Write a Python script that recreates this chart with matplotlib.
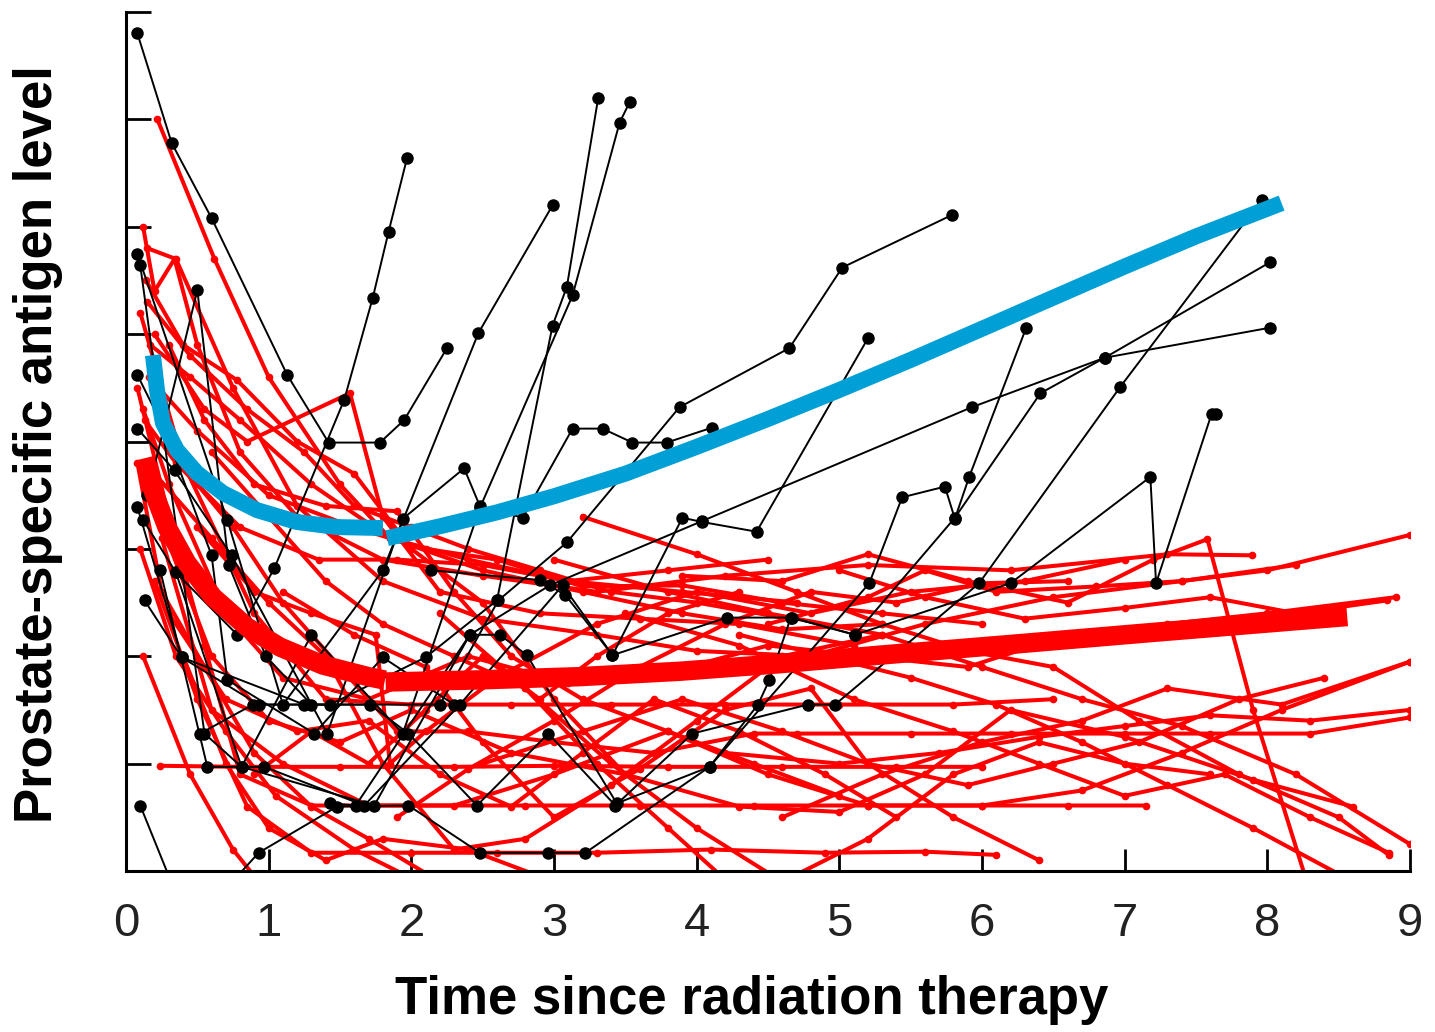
import numpy as np
import matplotlib
matplotlib.use('Agg')
import matplotlib.pyplot as plt

plt.rcParams['font.family'] = ['Liberation Sans', 'DejaVu Sans']

# PSA trajectories, time (years) and level (tick units)
# red = responders, black = recurrence
red_t = [
    [0.22, 0.62, 1.0, 1.5, 1.85, 2.4, 3.1, 3.9, 4.7],
    [0.12, 0.2, 0.34, 0.5, 0.8, 1.2, 1.8, 2.5, 3.3, 4.2, 5.2, 6.2, 7.3, 7.89],
    [0.15, 0.35, 0.75, 1.2, 1.8, 2.5, 3.3, 4.0, 4.8, 5.6, 6.5, 7.4, 8.2],
    [0.1, 0.4, 0.9, 1.4, 2.0, 2.7, 3.4, 4.2, 5.0, 5.8, 6.5],
    [0.08, 0.3, 0.55, 0.8, 1.3, 2.0, 2.8, 3.6, 4.4, 5.2, 6.0, 6.6, 7.15],
    [0.24, 0.8, 1.5, 2.3, 3.0, 3.8, 4.6, 5.4, 6.0],
    [0.12, 0.45, 0.75, 1.05],
    [0.2, 0.5, 0.85, 1.3, 2.0, 2.6, 3.3, 4.1, 4.9, 5.6, 6.1],
    [0.12, 0.3, 0.7, 1.1, 1.7, 2.4, 3.1, 3.8, 4.5, 5.2, 5.9, 6.6, 7.3, 8.0, 8.9],
    [0.16, 0.5, 1.0, 1.6, 2.1, 2.6, 3.2, 3.9, 4.6, 5.3, 6.0],
    [0.2, 0.55, 0.85, 1.57, 1.8, 2.2, 2.9, 3.6, 4.3, 5.1],
    [0.5, 0.75, 1.1, 1.5, 1.9, 2.4, 3.0, 3.7, 4.4, 4.7, 5.5, 6.2, 7.0, 7.6, 8.3, 9.0],
    [0.2, 0.6, 1.0, 1.5, 2.0, 2.7, 3.5, 4.3, 5.0, 5.6, 6.2, 7.0, 7.9, 8.6],
    [0.25, 0.6, 1.1, 1.7, 2.3, 3.0, 3.8, 4.5, 5.2, 6.0, 6.7, 7.4, 8.1, 9.0],
    [4.5, 5.2, 5.6, 6.1, 6.8, 7.4, 8.0, 9.0],
    [5.0, 5.6, 6.3, 7.0, 7.6, 8.2, 8.84],
    [3.9, 4.6, 5.2, 5.9, 6.6, 7.2, 7.58, 7.9, 8.3],
    [4.6, 5.3, 6.0, 6.7, 7.3, 8.1, 9.0],
    [4.2, 5.0, 5.7, 6.4, 7.0, 7.6, 8.3, 9.0],
    [3.0, 3.8, 4.5, 5.3, 6.0, 6.7, 7.4, 8.2, 9.0],
    [3.5, 4.3, 5.1, 5.8, 6.4, 7.0, 7.7, 8.3, 8.85],
    [4.3, 4.9, 5.5, 6.1, 6.7, 7.3, 7.9, 8.6, 9.0],
    [2.5, 3.2, 3.9, 4.6, 5.2, 5.9, 6.5, 7.1, 7.8, 8.4],
    [3.2, 4.0, 4.7, 5.3, 5.9, 6.5, 7.1, 7.8, 8.5, 8.85],
    [0.08, 0.25, 0.55, 0.9, 1.3, 1.7, 2.2],
    [0.1, 0.35, 0.7, 1.05, 1.6, 2.2],
    [0.17, 0.45, 0.8, 1.3, 1.85, 2.5, 3.2, 3.9, 4.6, 5.3],
    [0.3, 0.55, 0.9, 1.4, 1.9, 2.3, 2.7, 3.2, 3.8, 4.4, 5.0],
    [0.14, 0.4, 0.78, 1.2, 1.6, 2.0, 2.5, 3.0, 3.5],
    [0.5, 0.9, 1.3, 1.75, 1.85, 2.1, 2.6, 3.3, 4.0, 4.8, 5.5, 6.3, 7.0],
    [0.2, 0.6, 1.0, 1.4, 1.8, 2.3, 2.8, 3.4, 4.0, 4.6, 5.3],
    [0.3, 0.7, 1.2, 1.7, 2.2, 2.7, 3.2, 3.7, 4.3, 4.9, 5.4],
    [0.13, 0.35, 0.8, 1.35, 1.9, 2.5, 3.1, 3.8, 4.5],
    [0.6, 1.0, 1.4, 1.8, 2.3, 2.8, 3.3, 3.8, 4.3],
    [1.1, 1.6, 2.1, 2.5, 3.0, 3.6, 4.2, 4.8, 5.2, 5.8, 6.4],
    [1.9, 2.4, 3.0, 3.6, 4.2, 4.8, 5.4, 6.0, 6.6],
    [2.2, 2.8, 3.4, 4.0, 4.6, 5.2, 5.8, 6.4, 7.0, 7.6],
    [0.4, 0.7, 1.0, 1.4, 1.8, 2.4, 3.0],
    [0.9, 1.3, 1.7, 2.1, 2.5, 2.9, 3.3, 3.8, 4.3],
    [0.15, 0.45, 0.85, 1.25, 1.6, 2.0, 2.4, 2.9, 3.4, 4.0, 4.6],
]
red_psa = [
    [7.0, 5.7, 4.6, 3.6, 3.1, 2.9, 2.7, 2.6, 2.5],
    [6.0, 5.4, 5.7, 4.9, 3.9, 3.3, 2.9, 2.75, 2.6, 2.75, 2.85, 2.8, 2.95, 2.94],
    [5.8, 5.7, 4.5, 3.4, 2.7, 2.35, 2.2, 2.05, 2.0, 2.3, 2.55, 2.7, 2.85],
    [5.2, 3.8, 2.4, 1.6, 1.55, 1.55, 1.55, 1.55, 1.55, 1.55, 1.6],
    [4.5, 3.3, 2.1, 0.9, 0.61, 0.61, 0.61, 0.61, 0.61, 0.61, 0.61, 0.61, 0.61],
    [0.98, 0.97, 0.97, 0.97, 0.98, 0.97, 0.97, 0.97, 0.97],
    [2.0, 0.9, 0.2, -0.3],
    [2.7, 1.6, 0.6, 0.17, 0.17, 0.17, 0.17, 0.2, 0.17, 0.18, 0.15],
    [4.3, 3.6, 2.4, 1.8, 1.6, 2.0, 1.75, 1.85, 2.1, 2.0, 1.9, 2.2, 2.3, 2.4, 2.55],
    [4.6, 4.1, 3.5, 3.2, 3.0, 2.9, 2.65, 2.66, 2.5, 2.4, 2.3],
    [5.0, 4.3, 4.0, 4.45, 3.3, 2.6, 2.4, 2.35, 2.3, 2.1],
    [3.6, 3.2, 2.5, 1.9, 1.3, 1.3, 1.2, 1.1, 1.28, 1.28, 1.28, 1.28, 1.28, 1.28, 1.28, 1.43],
    [3.4, 2.0, 1.4, 1.2, 1.5, 1.1, 0.9, 0.6, 0.55, 0.9, 1.5, 1.25, 0.85, 0.6],
    [3.1, 1.5, 1.0, 0.61, 0.61, 0.9, 1.3, 0.9, 0.61, 0.61, 0.75, 1.1, 1.5, 1.95],
    [2.3, 2.55, 2.8, 2.6, 2.65, 2.7, 2.8, 3.13],
    [2.8, 2.55, 2.35, 2.45, 2.55, 2.4, 2.52],
    [2.75, 2.7, 2.95, 2.7, 2.5, 2.9, 3.09, 1.5, -0.2],
    [0.5, 0.9, 1.2, 1.4, 1.7, 1.55, 1.95],
    [1.1, 1.0, 1.1, 1.25, 1.35, 1.45, 1.4, 1.5],
    [2.9, 2.6, 2.4, 2.2, 1.9, 1.6, 1.35, 0.9, 0.25],
    [2.4, 2.1, 1.6, 1.3, 1.0, 0.7, 0.9, 0.5, 0.17],
    [2.2, 2.0, 1.8, 1.55, 1.2, 0.8, 0.4, -0.1, -0.3],
    [1.0, 1.3, 1.6, 1.3, 1.0, 0.8, 1.0, 1.2, 1.6, 1.8],
    [3.3, 2.95, 2.6, 2.3, 2.05, 1.9, 1.4, 0.9, 0.5, 0.15],
    [3.8, 2.6, 1.9, 1.1, 0.6, 0.3, -0.1],
    [3.0, 2.0, 1.3, 0.7, 0.2, -0.2],
    [4.9, 4.6, 4.2, 3.6, 3.1, 2.8, 2.6, 2.4, 2.25, 2.3],
    [4.9, 4.2, 3.6, 3.4, 3.35, 2.6, 2.0, 1.6, 1.3, 1.0, 0.7],
    [5.5, 4.9, 4.57, 4.0, 3.7, 3.0, 2.5, 1.6, 0.9],
    [3.2, 2.6, 2.4, 2.2, 1.0, 1.3, 1.8, 2.3, 2.6, 2.4, 2.6, 2.7, 2.9],
    [3.7, 3.1, 2.5, 2.0, 1.0, 0.2, 0.3, 0.8, 1.4, 2.0, 2.2],
    [2.4, 1.6, 1.3, 1.4, 0.9, 0.6, 1.1, 1.6, 1.3, 0.9, 0.5],
    [4.2, 3.8, 3.2, 2.9, 2.9, 2.85, 2.7, 2.8, 2.9],
    [3.9, 3.3, 2.7, 2.3, 2.0, 1.7, 1.0, 0.4, -0.2],
    [2.6, 2.2, 1.9, 1.2, 0.5, 0.95, 1.5, 1.7, 1.0, 0.5, 0.1],
    [0.5, 0.95, 1.4, 1.9, 2.3, 2.6, 2.5, 2.68, 2.7],
    [2.4, 1.7, 1.0, 0.4, -0.1, 0.3, 0.9, 1.2, 1.0, 0.9],
    [2.0, 1.0, 0.4, 0.1, 0.3, 0.2, -0.1],
    [0.9, 1.3, 1.0, 1.5, 2.0, 1.6, 2.0, 2.4, 2.6],
    [5.3, 4.8, 4.3, 3.9, 3.4, 3.2, 3.0, 2.8, 2.6, 2.5, 2.36],
]

black_t = [
    [0.08, 0.32, 0.60, 1.13, 1.42, 1.78, 1.95, 2.25],
    [0.12, 0.35, 0.78, 1.04, 1.53, 1.73, 1.84, 1.97],
    [0.08, 0.39, 0.93, 1.43, 2.10, 2.60, 2.99, 3.09, 3.31],
    [0.10, 0.55, 0.81, 1.30, 1.94, 2.48, 3.13, 3.46, 3.53],
    [0.08, 0.71, 1.10, 1.80, 2.47, 2.99],
    [0.08, 0.34, 0.74, 1.41, 1.94, 2.37, 2.48, 2.78, 3.13, 3.34, 3.55, 3.79, 4.11],
    [0.13, 0.39, 1.25, 2.20, 2.61, 3.09, 3.88, 4.65, 5.02, 5.79],
    [0.24, 0.57, 0.97, 1.67, 2.34, 3.06, 3.41, 3.90, 4.04, 4.42, 5.20],
    [0.35, 0.81, 1.74, 2.41, 2.97, 4.04, 5.93, 6.86, 8.02],
    [0.10, 0.31],
    [0.69, 0.93, 1.48, 1.98, 2.48, 2.96, 3.22, 4.09, 4.43, 4.51, 4.66, 5.11, 6.20, 7.18, 7.22, 7.61, 7.64],
    [0.52, 0.89, 1.71, 1.98, 2.46, 2.96, 3.43, 3.97, 4.78, 4.97, 5.98, 6.97, 7.96],
    [2.14, 2.90, 3.08, 3.41, 4.21, 4.67, 5.11, 5.81, 6.41, 6.86, 8.02],
    [1.43, 1.61, 2.41, 2.62, 2.81, 3.44, 4.09, 5.21, 5.44, 5.74, 5.81, 5.91, 6.31],
    [0.08, 0.27, 0.60, 0.71, 1.32, 1.80, 2.30],
    [0.15, 0.50, 0.72, 0.98, 1.30],
]
black_psa = [
    [7.80, 6.78, 6.08, 4.62, 3.99, 3.99, 4.20, 4.87],
    [3.27, 2.78, 2.20, 2.82, 4.39, 5.34, 5.95, 6.64],
    [3.39, 1.99, 1.55, 1.55, 1.99, 2.52, 5.08, 5.44, 7.20],
    [5.64, 1.28, 0.97, 2.20, 1.28, 3.38, 5.36, 6.97, 7.16],
    [5.75, 3.27, 1.55, 2.80, 5.01, 6.20],
    [4.12, 3.73, 2.94, 1.28, 3.28, 3.75, 3.40, 3.29, 4.12, 4.12, 3.99, 3.99, 4.13],
    [2.52, 1.99, 1.55, 1.55, 2.52, 3.06, 4.32, 4.87, 5.62, 6.11],
    [2.80, 0.97, 0.97, 0.61, 1.55, 2.66, 2.01, 3.29, 3.25, 3.16, 4.96],
    [2.78, 0.97, 0.61, 2.20, 2.66, 3.26, 4.32, 4.78, 5.06],
    [0.61, -0.08],
    [-0.18, 0.17, 0.60, 0.61, 0.17, 0.17, 0.17, 0.97, 1.55, 1.78, 2.36, 2.20, 2.68, 3.67, 2.68, 4.26, 4.26],
    [1.28, 1.55, 1.55, 1.28, 0.61, 1.28, 0.61, 1.28, 1.55, 1.55, 2.68, 4.51, 6.25],
    [2.80, 2.71, 2.57, 2.01, 2.36, 2.36, 2.20, 3.29, 4.45, 4.78, 5.67],
    [0.63, 0.61, 2.20, 2.20, 2.01, 0.63, 0.97, 2.68, 3.48, 3.58, 3.28, 3.67, 5.06],
    [4.62, 4.11, 2.94, 1.78, 1.28, 1.99, 1.55],
    [3.50, 5.41, 2.85, 2.00, 1.55],
]

# group mean curves (two pieces each, break near t = 1.8)
blue_t1 = [0.189, 0.217, 0.259, 0.357, 0.498, 0.680, 0.918, 1.198, 1.479, 1.801]
blue_y1 = [4.804, 4.479, 4.171, 3.920, 3.706, 3.520, 3.361, 3.250, 3.203, 3.194]
blue_t2 = [1.83, 2.2, 2.6, 3.0, 3.5, 4.0, 4.5, 5.0, 5.5, 6.0, 6.5, 7.0, 7.5, 8.1]
blue_y2 = [3.10, 3.21, 3.34, 3.49, 3.70, 3.95, 4.21, 4.48, 4.76, 5.05, 5.34, 5.63, 5.91, 6.22]
redm_t1 = [0.133, 0.189, 0.287, 0.427, 0.610, 0.848, 1.079, 1.380, 1.710, 1.815]
redm_y1 = [3.845, 3.547, 3.203, 2.868, 2.551, 2.272, 2.086, 1.918, 1.806, 1.778]
redm_t2 = [1.82, 2.48, 3.18, 3.88, 4.58, 5.28, 6.20, 7.18, 8.56]
redm_y2 = [1.76, 1.78, 1.81, 1.86, 1.93, 2.01, 2.11, 2.22, 2.37]

x_ticks = np.arange(0, 10)
y_ticks = np.arange(0, 9)

fig = plt.figure(figsize=(14.35, 10.32), dpi=100)
ax = fig.add_axes([126/1435, 1 - 871/1032, (1410-126)/1435, (871-12)/1032])

for t, y in zip(red_t, red_psa):
    ax.plot(t, y, color='#ff0000', linewidth=2.9, marker='o', markersize=5.5,
            markeredgewidth=0, zorder=2)

for t, y in zip(black_t, black_psa):
    ax.plot(t, y, color='black', linewidth=1.4, marker='o', markersize=9,
            markeredgewidth=0, zorder=3)

for t, y in [(redm_t1, redm_y1), (redm_t2, redm_y2)]:
    ax.plot(t, y, color='#ff0000', linewidth=14, solid_capstyle='butt',
            solid_joinstyle='round', zorder=4)
for t, y in [(blue_t1, blue_y1), (blue_t2, blue_y2)]:
    ax.plot(t, y, color='#009fd6', linewidth=11.5, solid_capstyle='butt',
            solid_joinstyle='round', zorder=5)

ax.set_xlim(0, 9)
ax.set_ylim(0, 8)
ax.set_xticks(x_ticks)
ax.set_yticks(y_ticks)
ax.set_yticklabels([])
ax.spines['top'].set_visible(False)
ax.spines['right'].set_visible(False)
ax.spines['left'].set_linewidth(2.2)
ax.spines['bottom'].set_linewidth(2.2)
ax.tick_params(axis='x', direction='in', length=16, width=2, pad=22,
               labelsize=34, labelcolor='#222222')
ax.tick_params(axis='y', direction='in', length=18, width=2)

fig.text(0.524, 0.031, 'Time since radiation therapy', ha='center', va='center',
         fontsize=38, fontweight='bold')
fig.text(0.0265, 0.570, 'Prostate-specific antigen level', ha='center', va='center',
         rotation=90, fontsize=38, fontweight='bold')

fig.savefig('out.png', dpi=100)
